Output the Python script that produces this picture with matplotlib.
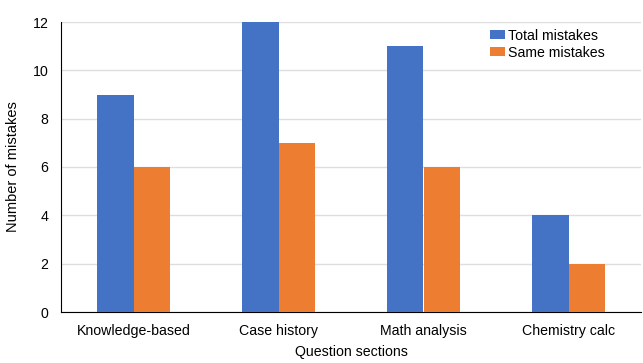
import numpy as np
import matplotlib.pyplot as plt

plt.rcParams['font.family'] = ['Liberation Sans', 'DejaVu Sans']

sections = ['Knowledge-based', 'Case history', 'Math analysis', 'Chemistry calc']
total_mistakes = [9, 12, 11, 4]
same_mistakes = [6, 7, 6, 2]

fig = plt.figure(figsize=(6.43, 3.63), dpi=100)
ax = fig.add_axes([61 / 643, 1 - 312 / 363, 580 / 643, 290 / 363])

x = np.arange(len(sections))
w = 0.255
ax.bar(x - w / 2, total_mistakes, w, color='#4472C4', label='Total mistakes', zorder=3)
ax.bar(x + w / 2, same_mistakes, w, color='#ED7D31', label='Same mistakes', zorder=3)

ax.set_xlim(-0.5, len(sections) - 0.5)
ax.set_ylim(0, 12)
ax.set_yticks(range(0, 13, 2))
ax.set_xticks(x)
ax.set_xticklabels(sections)
ax.tick_params(axis='both', length=0, labelsize=10.2, colors='black')
ax.tick_params(axis='x', pad=9)
ax.tick_params(axis='y', pad=9)
ax.yaxis.grid(True, color='#dedede', linewidth=1, zorder=0)

for s in ['top', 'right']:
    ax.spines[s].set_visible(False)
ax.spines['left'].set_color('black')
ax.spines['bottom'].set_color('black')

ax.set_xlabel('Question sections', fontsize=10.2, labelpad=5)
ax.set_ylabel('Number of mistakes', fontsize=10.5, labelpad=9)

ax.legend(loc='upper right', bbox_to_anchor=(0.96, 1.02), frameon=False, fontsize=10.2,
          handlelength=1.1, handleheight=0.6, handletextpad=0.2, labelspacing=0.2)

fig.savefig('out.png', dpi=100)
